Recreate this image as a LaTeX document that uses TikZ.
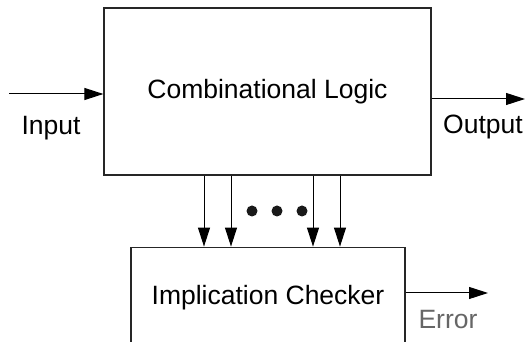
\documentclass[tikz,border=0pt]{standalone}
\usepackage{fontspec}
\setmainfont{Liberation Sans}
\usetikzlibrary{arrows.meta,positioning}

\begin{document}
\begin{tikzpicture}[
  x=0.5pt,y=0.5pt,
  font=\fontsize{13.25}{16}\selectfont,
  node distance=35.5pt,
  block/.style={draw=black!85,line width=0.6pt,align=center,fill=white},
  lbl/.style={inner sep=0pt},
  arrow/.style={-{Triangle[length=9.5pt,width=6pt]},line width=0.5pt}
]
\clip (0,0) rectangle (526,342);
\node[block,minimum width=163.5pt,minimum height=83.5pt] (logic) at (267.5,250.5)
  {Combinational Logic};
\node[block,minimum width=137pt,minimum height=50pt,below=of logic,xshift=0.25pt] (checker)
  {Implication Checker};

\coordinate (in) at (9,248);
\coordinate (out) at (525,243);
\coordinate (err) at (488,49);

\node[lbl] (inlabel) at (51,214) {Input};
\node[lbl] (outlabel) at (483,215) {Output};
\node[lbl,text=black!60] (errlabel) at (448,22) {Error};

\draw[arrow] (in) -- (in -| logic.west);
\draw[arrow] (out -| logic.east) -- (out);
\draw[arrow] (err -| checker.east) -- (err);

% lines between the two blocks
\foreach \dx in {-31.75,-18.25,22.75,36.25}
  \draw[arrow] ([xshift=\dx pt]logic.south) -- ([xshift=\dx pt]logic.south |- checker.north);

\foreach \px in {252,277,302}
  \fill[black!90] (\px,131) circle (2.75pt);
\end{tikzpicture}
\end{document}
